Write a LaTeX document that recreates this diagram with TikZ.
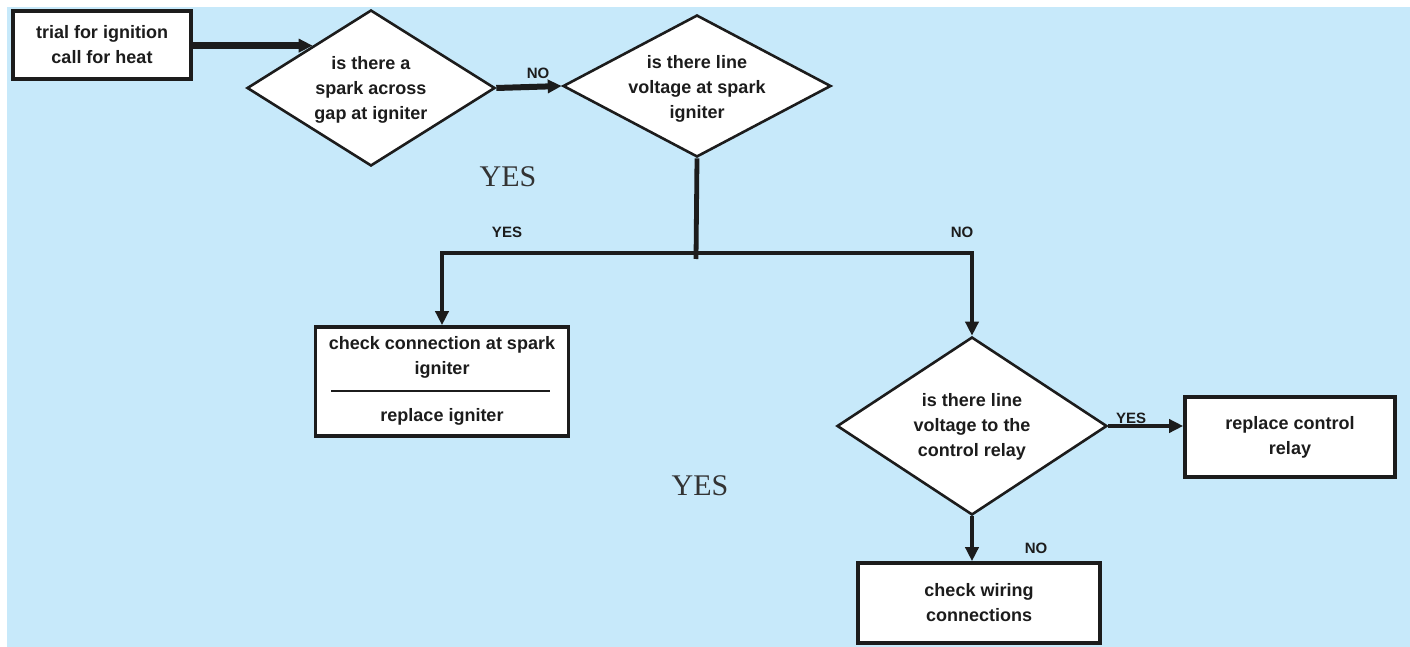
\documentclass[tikz,border=0pt]{standalone}
\usepackage{fontspec}
\setsansfont{Liberation Sans}
\newfontfamily\bigyesfont{Liberation Serif}
\usetikzlibrary{shapes.geometric,arrows.meta}
\definecolor{bgblue}{RGB}{199,233,250}
\definecolor{ink}{RGB}{28,28,28}
\begin{document}
\begin{tikzpicture}[x=0.5pt,y=-0.5pt,
  box/.style={draw=ink,line width=1.8pt,fill=white,inner sep=0pt,align=center,
    font=\sffamily\bfseries\fontsize{9}{12.5}\selectfont,text=ink},
  dia/.style={diamond,draw=ink,line width=1.3pt,fill=white,inner sep=0pt},
  txt/.style={align=center,inner sep=0pt,font=\sffamily\bfseries\fontsize{9}{12.5}\selectfont,text=ink},
  conn/.style={draw=ink,line width=2.4pt},
  arr/.style={conn,-{Triangle[length=7pt,width=6.5pt]}},
  lbl/.style={font=\sffamily\bfseries\fontsize{7.5}{9}\selectfont,text=ink,inner sep=0pt},
  bigyes/.style={font=\bigyesfont\fontsize{15}{18}\selectfont,text=black!80,inner sep=0pt}]
\useasboundingbox (0,0) rectangle (1410,647);
\fill[white] (0,0) rectangle (1410,647);
\fill[bgblue] (7,7) rectangle (1410,647);

% nodes
\node[box,minimum width=89pt,minimum height=34pt] (b1) at (102,45) {trial for ignition\\call for heat};
\node[dia,minimum width=124pt,minimum height=78pt] (d1) at (371,88) {};
\node[txt] (d1t) at (371,90) {is there a\\spark across\\gap at igniter};
\node[dia,minimum width=134pt,minimum height=71pt] (d2) at (697,86) {};
\node[txt] (d2t) at (697,89) {is there line\\voltage at spark\\igniter};
\node[box,minimum width=126.5pt,minimum height=54.5pt] (lb) at (442,381.5) {};
\node[txt] (lbt) at (442,357) {check connection at spark\\igniter};
\node[txt] (lbb) at (442,417) {replace igniter};
\coordinate (sepl) at (331,391);
\coordinate (sepr) at (550,391);
\draw[ink,line width=1.3pt] (sepl) -- (sepr);
\node[dia,minimum width=135pt,minimum height=89pt] (d3) at (972,426) {};
\node[txt] (d3t) at (972,427) {is there line\\voltage to the\\control relay};
\node[box,minimum width=105pt,minimum height=40pt] (rb) at (1290,437) {replace control\\relay};
\node[box,minimum width=121pt,minimum height=40pt] (bb) at (979,603) {check wiring\\connections};
\coordinate (j) at (696,253);

% connectors
\draw[arr,line width=3.5pt] (b1.east |- d1.144) -- (d1.144);
\draw[arr,line width=3pt] (d1.east) -- (d2.west);
\draw[conn] (d2.south) -- ([yshift=-3pt]j);
\draw[arr] (j) -| (lb.north);
\draw[arr] (j) -| (d3.north);
\draw[arr] (d3.east) -- (d3.east -| rb.west);
\draw[arr] (d3.south) -- (d3.south |- bb.north);

% labels
\node[lbl] (l1) at (538,73) {NO};
\node[lbl] (l2) at (507,232) {YES};
\node[lbl] (l3) at (962,232) {NO};
\node[lbl] (l4) at (1131,418) {YES};
\node[lbl] (l5) at (1036,548) {NO};
\node[bigyes] (y1) at (508,177) {YES};
\node[bigyes] (y2) at (700,486) {YES};
\end{tikzpicture}
\end{document}
